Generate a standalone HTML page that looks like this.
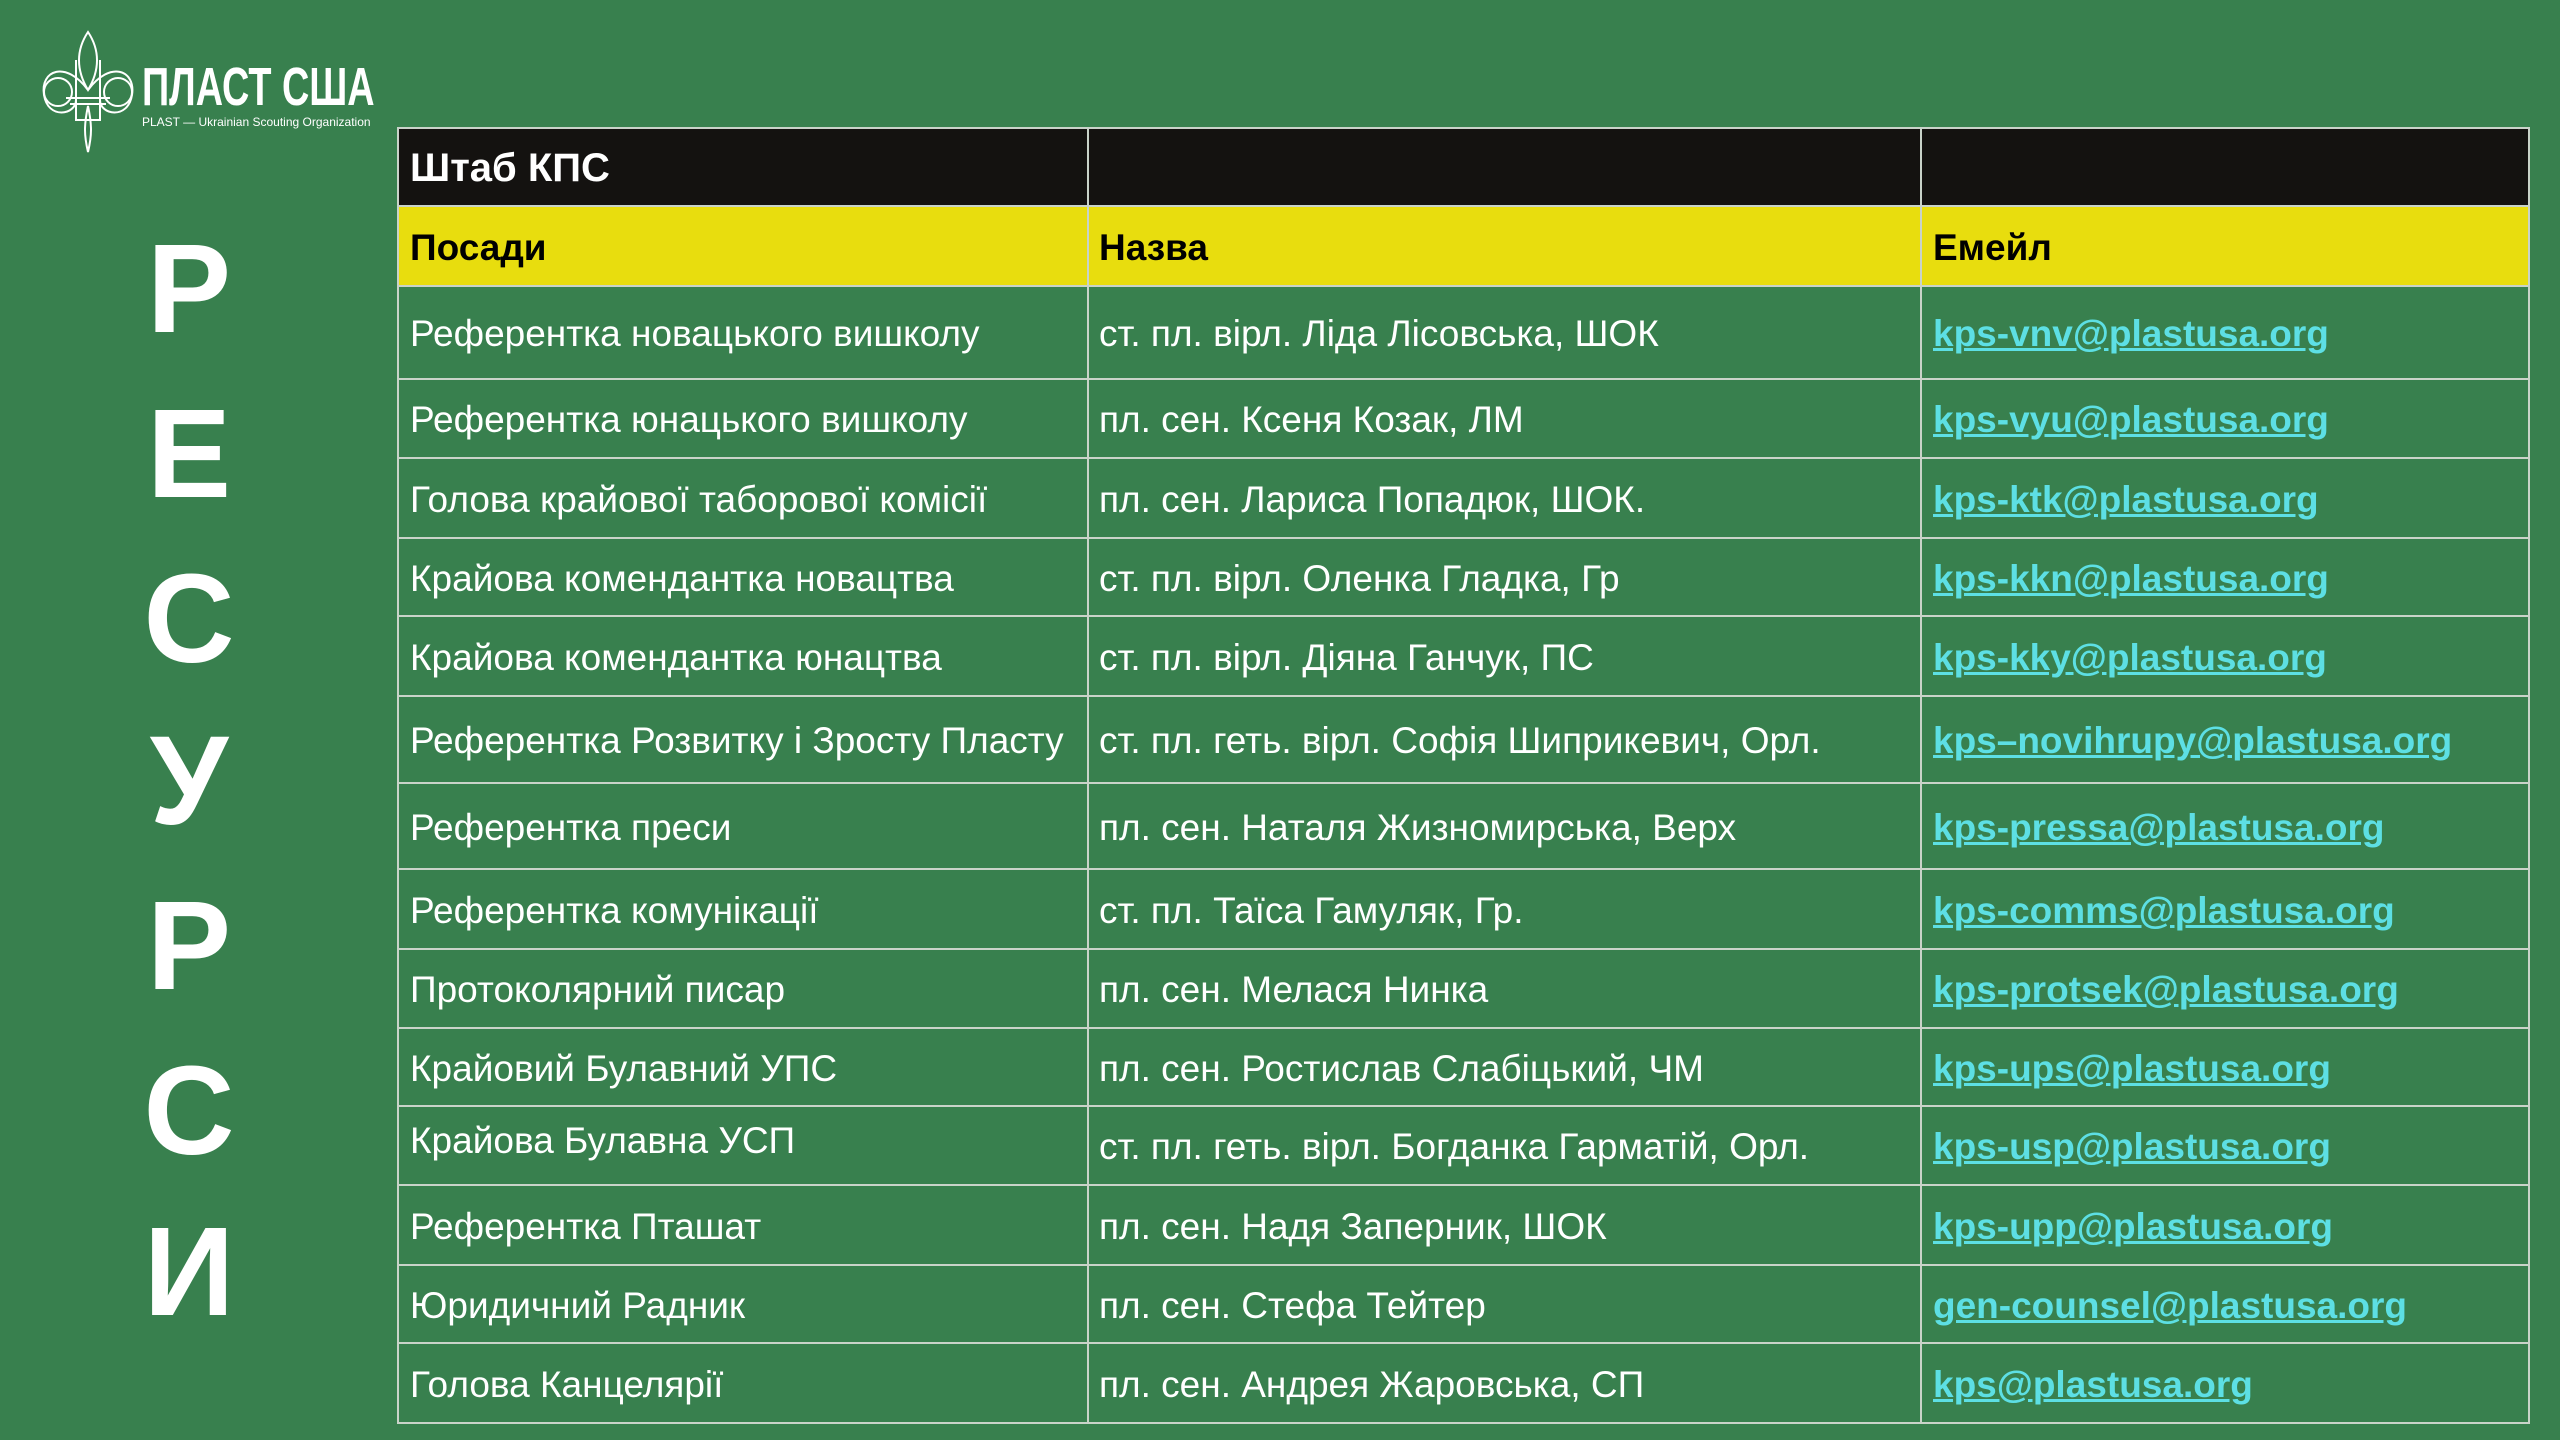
<!DOCTYPE html>
<html><head><meta charset="utf-8"><style>
*{margin:0;padding:0;box-sizing:border-box}
body{width:2560px;height:1440px;background:#38804e;position:relative;overflow:hidden;font-family:"Liberation Sans","Noto Sans CJK SC",sans-serif}
.big{position:absolute;left:189px;transform:translate(-50%,-50%);color:#fff;font-weight:bold;font-size:126px;line-height:1}
.row{position:absolute;left:398px;width:2131px;border-bottom:2px solid #c9d3c9}
.c{position:absolute;top:3px;bottom:0;display:flex;align-items:center;font-size:37px;color:#fff;white-space:nowrap}
.c1{left:12px}.c2{left:701px}.c3{left:1535px}
.c3 a{color:#5ddfe4;text-decoration:underline;font-weight:bold;font-size:37px;text-decoration-thickness:3px}
.vl{position:absolute;top:127px;height:1297px;width:2px;background:#c9d3c9}
</style></head><body>
<svg style="position:absolute;left:36px;top:30px" width="104" height="125" viewBox="0 0 104 125" fill="none" stroke="#fff" stroke-width="2">
<path d="M52 2 C40 20 40 40 52 60 C64 40 64 20 52 2Z"/>
<path d="M52 60 C30 30 4 40 8 65 C12 90 40 85 40 70"/>
<path d="M52 60 C74 30 100 40 96 65 C92 90 64 85 64 70"/>
<path d="M30 68 H74 M34 74 H70"/>
<path d="M52 76 C48 95 48 105 52 122 C56 105 56 95 52 76Z"/>
<path d="M40 30 V90 H64 V30"/>
<circle cx="22" cy="62" r="14"/><circle cx="82" cy="62" r="14"/>
</svg>
<div style="position:absolute;left:142px;top:60px;color:#fff;font-weight:bold;font-size:54px;line-height:1;transform:scaleX(0.7);transform-origin:left top;font-family:'Liberation Sans Narrow','Liberation Sans',sans-serif">ПЛАСТ США</div>
<div style="position:absolute;left:142px;top:115px;color:#fff;font-size:12px;white-space:nowrap">PLAST — Ukrainian Scouting Organization</div>

<div class="big" style="top:289px">Р</div>
<div class="big" style="top:454px">Е</div>
<div class="big" style="top:619px">С</div>
<div class="big" style="top:781px">У</div>
<div class="big" style="top:946px">Р</div>
<div class="big" style="top:1111px">С</div>
<div class="big" style="top:1272px">И</div>

<div class="row" style="top:127px;height:80px;background:#141210;border-top:2px solid #c9d3c9"><div class="c c1" style="font-weight:bold;font-size:40px">Штаб КПС</div></div>
<div class="row" style="top:207px;height:80px;background:#e8dd0e"><div class="c c1" style="color:#000;font-weight:bold">Посади</div><div class="c c2" style="color:#000;font-weight:bold">Назва</div><div class="c c3" style="color:#000;font-weight:bold">Емейл</div></div>

<div class="row" style="top:287px;height:93px"><div class="c c1">Референтка новацького вишколу</div><div class="c c2">ст. пл. вірл. Ліда Лісовська, ШОК</div><div class="c c3"><a>kps-vnv@plastusa.org</a></div></div>
<div class="row" style="top:380px;height:79px"><div class="c c1">Референтка юнацького вишколу</div><div class="c c2">пл. сен. Ксеня Козак, ЛМ</div><div class="c c3"><a>kps-vyu@plastusa.org</a></div></div>
<div class="row" style="top:459px;height:80px"><div class="c c1">Голова крайової таборової комісії</div><div class="c c2">пл. сен. Лариса Попадюк, ШОК.</div><div class="c c3"><a>kps-ktk@plastusa.org</a></div></div>
<div class="row" style="top:539px;height:78px"><div class="c c1">Крайова комендантка новацтва</div><div class="c c2">ст. пл. вірл. Оленка Гладка, Гр</div><div class="c c3"><a>kps-kkn@plastusa.org</a></div></div>
<div class="row" style="top:617px;height:80px"><div class="c c1">Крайова комендантка юнацтва</div><div class="c c2">ст. пл. вірл. Діяна Ганчук, ПС</div><div class="c c3"><a>kps-kky@plastusa.org</a></div></div>
<div class="row" style="top:697px;height:87px"><div class="c c1">Референтка Розвитку і Зросту Пласту</div><div class="c c2">ст. пл. геть. вірл. Софія Шиприкевич, Орл.</div><div class="c c3"><a>kps–novihrupy@plastusa.org</a></div></div>
<div class="row" style="top:784px;height:86px"><div class="c c1">Референтка преси</div><div class="c c2">пл. сен. Наталя Жизномирська, Верх</div><div class="c c3"><a>kps-pressa@plastusa.org </a></div></div>
<div class="row" style="top:870px;height:80px"><div class="c c1">Референтка комунікації</div><div class="c c2">ст. пл. Таїса Гамуляк, Гр.</div><div class="c c3"><a>kps-comms@plastusa.org</a></div></div>
<div class="row" style="top:950px;height:79px"><div class="c c1">Протоколярний писар</div><div class="c c2">пл. сен. Мелася Нинка</div><div class="c c3"><a>kps-protsek@plastusa.org</a></div></div>
<div class="row" style="top:1029px;height:78px"><div class="c c1">Крайовий Булавний УПС</div><div class="c c2">пл. сен. Ростислав Слабіцький, ЧМ</div><div class="c c3"><a>kps-ups@plastusa.org</a></div></div>
<div class="row" style="top:1107px;height:79px"><div class="c c1" style="align-items:flex-start;padding-top:10px">Крайова Булавна УСП</div><div class="c c2">ст. пл. геть. вірл. Богданка Гарматій, Орл.</div><div class="c c3"><a>kps-usp@plastusa.org</a></div></div>
<div class="row" style="top:1186px;height:80px"><div class="c c1">Референтка Пташат</div><div class="c c2">пл. сен. Надя Заперник, ШОК</div><div class="c c3"><a>kps-upp@plastusa.org</a></div></div>
<div class="row" style="top:1266px;height:78px"><div class="c c1">Юридичний Радник</div><div class="c c2">пл. сен. Стефа Тейтер</div><div class="c c3"><a>gen-counsel@plastusa.org</a></div></div>
<div class="row" style="top:1344px;height:80px"><div class="c c1">Голова Канцелярії</div><div class="c c2">пл. сен. Андрея Жаровська, СП</div><div class="c c3"><a>kps@plastusa.org</a></div></div>

<div class="vl" style="left:397px"></div>
<div class="vl" style="left:1087px"></div>
<div class="vl" style="left:1920px"></div>
<div class="vl" style="left:2528px"></div>
</body></html>
